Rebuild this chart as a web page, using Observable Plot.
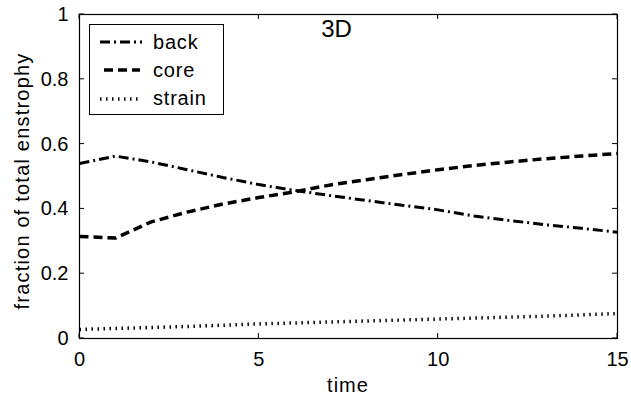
<!DOCTYPE html>
<html><head><meta charset="utf-8">
<script src="https://cdn.jsdelivr.net/npm/d3@7"></script>
<script src="https://cdn.jsdelivr.net/npm/@observablehq/plot@0.6"></script>
<style>body{margin:0;background:#fff;}</style>
</head><body><div id="chart"></div>
<script>
const time   = [0, 1, 2, 3, 4, 5, 6, 7, 8, 9, 10, 11, 12, 13, 14, 15];
const back   = [0.540, 0.563, 0.545, 0.521, 0.497, 0.475, 0.457, 0.441, 0.426, 0.411, 0.397, 0.378, 0.364, 0.351, 0.340, 0.328];
const core   = [0.315, 0.310, 0.360, 0.390, 0.415, 0.435, 0.453, 0.474, 0.490, 0.506, 0.521, 0.534, 0.545, 0.555, 0.563, 0.571];
const strain = [0.028, 0.031, 0.034, 0.037, 0.041, 0.045, 0.048, 0.051, 0.054, 0.057, 0.060, 0.063, 0.066, 0.069, 0.073, 0.077];
const seriesNames = ["back", "core", "strain"];
const xTicks = [0, 5, 10, 15];
const yTicks = [0, 0.2, 0.4, 0.6, 0.8, 1];
const xLabel = "time";
const yLabel = "fraction of total enstrophy";
const panelLabel = "3D";

const styles = {
  back:   {strokeWidth: 3,   strokeDasharray: "10,4,2,4"},
  core:   {strokeWidth: 3.5, strokeDasharray: "9,5"},
  strain: {strokeWidth: 3.5, strokeDasharray: "1.5,4.5"}
};
const values = {back, core, strain};
const rows = seriesNames.flatMap(s => time.map((t, i) => ({series: s, t, v: values[s][i]})));

const font = "'Liberation Sans', Arial, Helvetica, sans-serif";

const plot = Plot.plot({
  width: 631, height: 400,
  marginLeft: 79, marginRight: 14, marginTop: 14, marginBottom: 62,
  x: {domain: [0, 15]},
  y: {domain: [0, 1]},
  style: {fontFamily: font, fontSize: "20px", color: "#000", background: "#fff"},
  marks: [
    Plot.axisX({ticks: xTicks, tickSize: 0, tickPadding: 13, label: null, tickFormat: d => String(d), fontSize: 20}),
    Plot.axisY({ticks: yTicks, tickSize: 0, tickPadding: 11, label: null, tickFormat: d => String(d), fontSize: 20}),
    ...seriesNames.map(s => Plot.line(rows.filter(r => r.series === s), {
      x: "t", y: "v", stroke: "#000", strokeLinecap: "butt", strokeLinejoin: "miter", ...styles[s]
    })),
    Plot.frame({stroke: "#000", strokeWidth: 1.2}),
    Plot.text([panelLabel], {frameAnchor: "top", dx: -12, dy: 15, lineAnchor: "middle", fontSize: 24, fill: "#000", text: d => d})
  ]
});

document.getElementById("chart").appendChild(plot);
const svg = d3.select(plot);
const sx = plot.scale("x"), sy = plot.scale("y");
const [x0, x1] = [sx.apply(0), sx.apply(15)];
const [y0, y1] = [sy.apply(0), sy.apply(1)];

// inward ticks on all four sides
const tg = svg.append("g").attr("stroke", "#000").attr("stroke-width", 1);
xTicks.forEach(v => {
  const x = sx.apply(v);
  tg.append("line").attr("x1", x).attr("x2", x).attr("y1", y0).attr("y2", y0 - 5);
  tg.append("line").attr("x1", x).attr("x2", x).attr("y1", y1).attr("y2", y1 + 5);
});
yTicks.forEach(v => {
  const y = sy.apply(v);
  tg.append("line").attr("x1", x0).attr("x2", x0 + 5).attr("y1", y).attr("y2", y);
  tg.append("line").attr("x1", x1).attr("x2", x1 - 5).attr("y1", y).attr("y2", y);
});

// axis titles
svg.append("text").attr("x", (x0 + x1) / 2).attr("y", 392)
  .attr("text-anchor", "middle").attr("font-family", font).attr("font-size", 20)
  .attr("letter-spacing", 1).attr("fill", "#000").text(xLabel);
svg.append("text").attr("transform", `translate(29,${(y0 + y1) / 2 + 5}) rotate(-90)`)
  .attr("text-anchor", "middle").attr("font-family", font).attr("font-size", 20)
  .attr("letter-spacing", 1.2).attr("fill", "#000").text(yLabel);

// legend
const lg = svg.append("g");
lg.append("rect").attr("x", 89.5).attr("y", 24.5).attr("width", 134).attr("height", 90)
  .attr("fill", "#fff").attr("stroke", "#000").attr("stroke-width", 1);
const legendRows = [
  {name: seriesNames[0], y: 42, xa: 100, xb: 142, base: 49},
  {name: seriesNames[1], y: 70, xa: 104, xb: 140, base: 77},
  {name: seriesNames[2], y: 99, xa: 100, xb: 139, base: 105}
];
legendRows.forEach(r => {
  lg.append("line").attr("x1", r.xa).attr("x2", r.xb).attr("y1", r.y).attr("y2", r.y)
    .attr("stroke", "#000").attr("stroke-width", styles[r.name].strokeWidth)
    .attr("stroke-dasharray", styles[r.name].strokeDasharray);
  lg.append("text").attr("x", 153).attr("y", r.base).attr("font-family", font)
    .attr("text-anchor", "start")
    .attr("font-size", 20).attr("letter-spacing", 0.8).attr("fill", "#000").text(r.name);
});
</script>
</body></html>
